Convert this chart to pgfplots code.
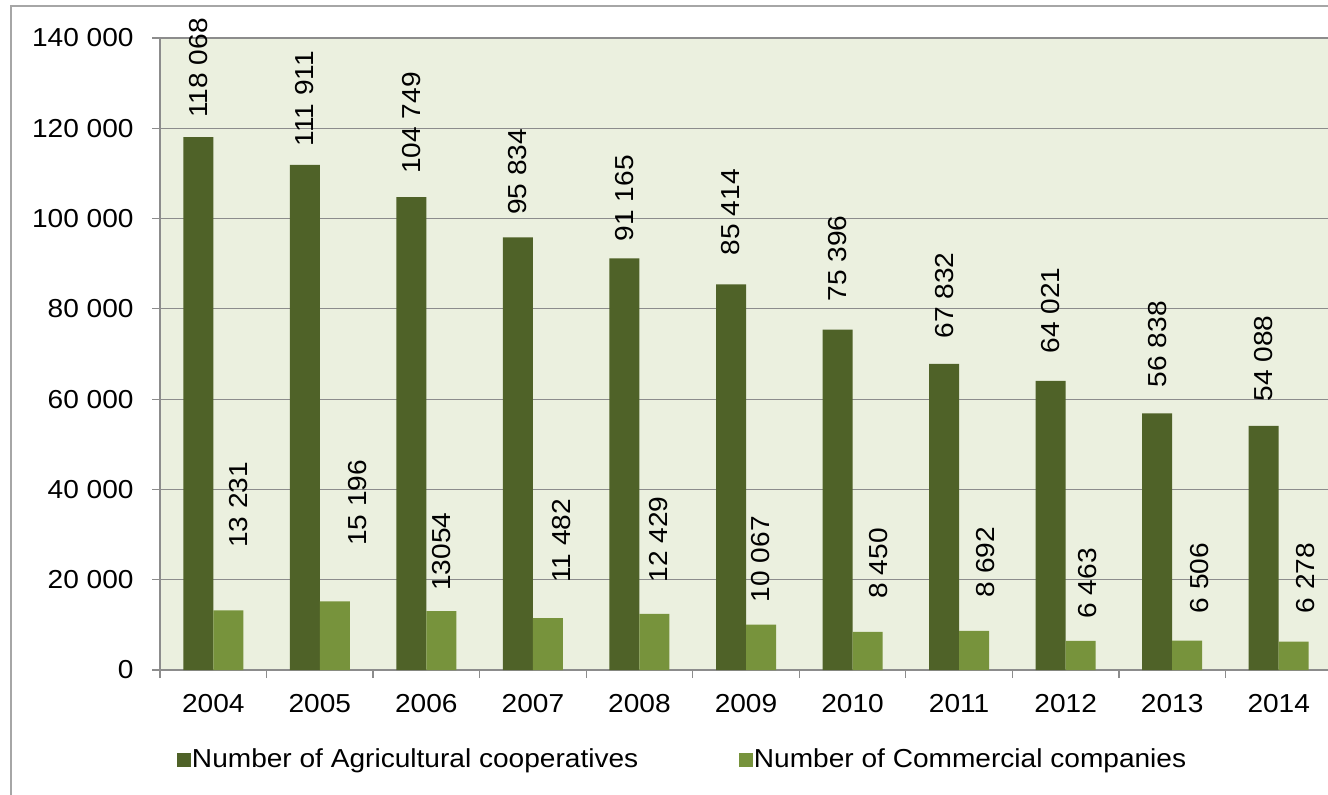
\documentclass[border=0pt]{standalone}
\usepackage{fontspec}
\setmainfont{Liberation Sans}[FakeStretch=1.08]
\usepackage{pgfplots}
\usepackage{pgfplotstable}
\pgfplotsset{compat=1.18}
\definecolor{darkg}{HTML}{4F6228}
\definecolor{lightg}{HTML}{77933C}
\definecolor{bgg}{HTML}{EBF0DF}
\definecolor{gridc}{HTML}{8C8C8C}
\definecolor{framec}{HTML}{A6A6A6}

\pgfplotstableread[col sep=comma]{
x,y,lab,dx,dy
0,118068,118 068,-7.5,9.5
1,111911,111 911,-7.5,9
2,104749,104 749,-7.5,11.5
3,95834,95 834,-7.5,11
4,91165,91 165,-7.5,8.5
5,85414,85 414,-7.5,14.5
6,75396,75 396,-7.5,14
7,67832,67 832,-7.5,12.5
8,64021,64 021,-7.5,13.5
9,56838,56 838,-7.5,13
10,54088,54 088,-7.5,12
}\darktab

\pgfplotstableread[col sep=comma]{
x,y,lab,dx,dy
0,13231,13 231,12.5,31
1,15196,15 196,19,27.5
2,13054,13054,7.5,10
3,11482,11 482,14.5,17.5
4,12429,12 429,9.5,15.5
5,10067,10 067,7.5,11
6,8450,8 450,13,16.5
7,8692,8 692,13,16.5
8,6463,6 463,11,11
9,6506,6 506,13.5,13.5
10,6278,6 278,13.5,14
}\lighttab

\begin{document}
\begin{tikzpicture}[font=\fontsize{13}{15.6}\selectfont]
\useasboundingbox (0pt,0pt) rectangle (664pt,-397.5pt);
\draw[color=framec, line width=0.7pt] (5.5pt,-3pt) rectangle (700pt,-420pt);
\begin{axis}[
  at={(80pt,-335pt)}, anchor=south west,
  scale only axis, width=586pt, height=316pt,
  xmin=-0.5, xmax=10.5, ymin=0, ymax=140000,
  axis background/.style={fill=bgg},
  axis x line*=bottom, axis y line*=left,
  axis line style={draw=gridc, line width=0.6pt},
  ymajorgrids, grid style={draw=gridc, line width=0.6pt},
  ytick={0,20000,...,140000},
  scaled y ticks=false,
  /pgf/number format/.cd, assume math mode=true, 1000 sep={\ }, fixed,
  /pgfplots/.cd,
  tick align=outside, major tick length=4pt,
  tick style={draw=gridc, line width=0.6pt},
  yticklabel style={anchor=east, inner sep=0pt, xshift=-9pt},
  xtick={-0.5,0.5,...,10.5},
  xticklabels={},
  extra x ticks={0,1,2,3,4,5,6,7,8,9,10},
  extra x tick labels={2004,2005,2006,2007,2008,2009,2010,2011,2012,2013,2014},
  extra x tick style={major tick length=0pt, grid=none},
  xticklabel style={anchor=north, inner sep=0pt, yshift=-12pt},
  legend columns=2,
  legend style={draw=none, fill=none, at={(0.0145,-0.1424)}, anchor=west,
    inner sep=0pt, row sep=0pt,
    nodes={inner sep=0.5pt, font=\fontsize{13}{15.6}\selectfont},
    /tikz/every even column/.append style={column sep=50pt}},
  legend cell align=left,
]
\addplot[ybar, bar width=15pt, bar shift=-7.5pt, fill=darkg, draw=none,
  legend image code/.code={\fill[darkg] (0pt,-3.4pt) rectangle (6.8pt,3.4pt);},
  point meta=explicit symbolic,
  visualization depends on={\thisrow{dx} \as \mydx},
  visualization depends on={\thisrow{dy} \as \mydy},
  nodes near coords,
  every node near coord/.append style={xshift=\mydx pt, yshift=\mydy pt, rotate=90, anchor=west, inner sep=0pt, text=black, font=\fontsize{13}{15.6}\selectfont},
] table[x=x, y=y, meta=lab] {\darktab};
\addlegendentry{Number of Agricultural cooperatives}
\addplot[ybar, bar width=15pt, bar shift=7.5pt, fill=lightg, draw=none,
  legend image code/.code={\fill[lightg] (0pt,-3.4pt) rectangle (6.8pt,3.4pt);},
  point meta=explicit symbolic,
  visualization depends on={\thisrow{dx} \as \mydx},
  visualization depends on={\thisrow{dy} \as \mydy},
  nodes near coords,
  every node near coord/.append style={xshift=\mydx pt, yshift=\mydy pt, rotate=90, anchor=west, inner sep=0pt, text=black, font=\fontsize{13}{15.6}\selectfont},
] table[x=x, y=y, meta=lab] {\lighttab};
\addlegendentry{Number of Commercial companies}
\end{axis}
\end{tikzpicture}
\end{document}
